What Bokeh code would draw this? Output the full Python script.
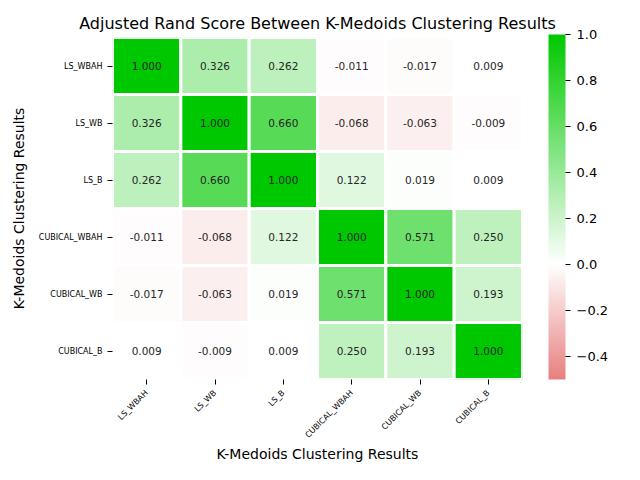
import numpy as np
from bokeh.plotting import figure
from bokeh.models import ColumnDataSource, LinearColorMapper, ColorBar, FixedTicker
from bokeh.core.properties import value
from bokeh.embed import file_html
from bokeh.resources import INLINE

labels = ["LS_WBAH", "LS_WB", "LS_B", "CUBICAL_WBAH", "CUBICAL_WB", "CUBICAL_B"]
row_ls_wbah = [1.000, 0.326, 0.262, -0.011, -0.017, 0.009]
row_ls_wb = [0.326, 1.000, 0.660, -0.068, -0.063, -0.009]
row_ls_b = [0.262, 0.660, 1.000, 0.122, 0.019, 0.009]
row_cub_wbah = [-0.011, -0.068, 0.122, 1.000, 0.571, 0.250]
row_cub_wb = [-0.017, -0.063, 0.019, 0.571, 1.000, 0.193]
row_cub_b = [0.009, -0.009, 0.009, 0.250, 0.193, 1.000]
rows = [row_ls_wbah, row_ls_wb, row_ls_b, row_cub_wbah, row_cub_wb, row_cub_b]
cbar_ticks = [-0.4, -0.2, 0.0, 0.2, 0.4, 0.6, 0.8, 1.0]

VMIN, VMAX = -0.5, 1.0
RED = (232, 128, 128)
GREEN = (0, 200, 0)

def mix(c, t):
    return tuple(int(round(255 + (ci - 255) * t)) for ci in c)

palette = []
for v in np.linspace(VMIN, VMAX, 256):
    if v < 0:
        c = mix(RED, -v / 0.5)
    else:
        c = mix(GREEN, v)
    palette.append("#%02x%02x%02x" % c)

xs, ys, vals, txt = [], [], [], []
for rl, r in zip(labels, rows):
    for cl, v in zip(labels, r):
        xs.append(cl)
        ys.append(rl)
        vals.append(v)
        txt.append(f"{v:.3f}")
src = ColumnDataSource(dict(x=xs, y=ys, v=vals, t=txt))

mapper = LinearColorMapper(palette=palette, low=VMIN, high=VMAX)

FONT = "DejaVu Sans"
p = figure(width=624, height=464, x_range=labels, y_range=list(reversed(labels)),
           output_backend="svg", toolbar_location=None,
           min_border_left=112, min_border_right=102, min_border_top=37, min_border_bottom=82,
           title="Adjusted Rand Score Between K-Medoids Clustering Results")
p.title.align = "center"
p.title.text_font = FONT
p.title.text_font_size = "16px"
p.title.text_font_style = "normal"
p.title.text_color = "black"

p.rect(x="x", y="y", width=1, height=1, source=src,
       fill_color={"field": "v", "transform": mapper}, line_color="white", line_width=3)
p.text(x="x", y="y", text="t", source=src, text_align="center", text_baseline="middle",
       text_font=value(FONT), text_font_size="10.5px", text_color="#262626")

p.outline_line_color = None
p.grid.grid_line_color = None
p.background_fill_color = "white"
for ax in (p.xaxis[0], p.yaxis[0]):
    ax.axis_line_color = None
    ax.major_tick_line_color = "black"
    ax.major_tick_out = 5
    ax.major_tick_in = 0
    ax.major_label_text_font = FONT
    ax.major_label_text_font_size = "8px"
    ax.major_label_text_color = "black"
    ax.major_label_standoff = 5
    ax.axis_label_text_font = FONT
    ax.axis_label_text_font_size = "14px"
    ax.axis_label_text_font_style = "normal"
    ax.axis_label_text_color = "black"
p.xaxis.major_label_orientation = np.pi / 4
p.xaxis.major_label_standoff = 7
p.xaxis.axis_label_standoff = 0
p.yaxis.axis_label_standoff = 9
p.xaxis.axis_label = "K-Medoids Clustering Results"
p.yaxis.axis_label = "K-Medoids Clustering Results"

cb = ColorBar(color_mapper=mapper, width=17, height=345, location=(26, 0),
              ticker=FixedTicker(ticks=cbar_ticks),
              major_label_overrides={t: (f"{t:.1f}".replace("-", "\u2212")) for t in cbar_ticks},
              major_tick_in=0, major_tick_out=5, major_tick_line_color="black",
              major_label_text_font=FONT, major_label_text_font_size="13px",
              major_label_text_color="black", label_standoff=6,
              bar_line_color=None, border_line_color=None,
              padding=0, margin=0, background_fill_color=None)
p.add_layout(cb, "right")

open("out.html", "w").write(file_html(p, INLINE))
